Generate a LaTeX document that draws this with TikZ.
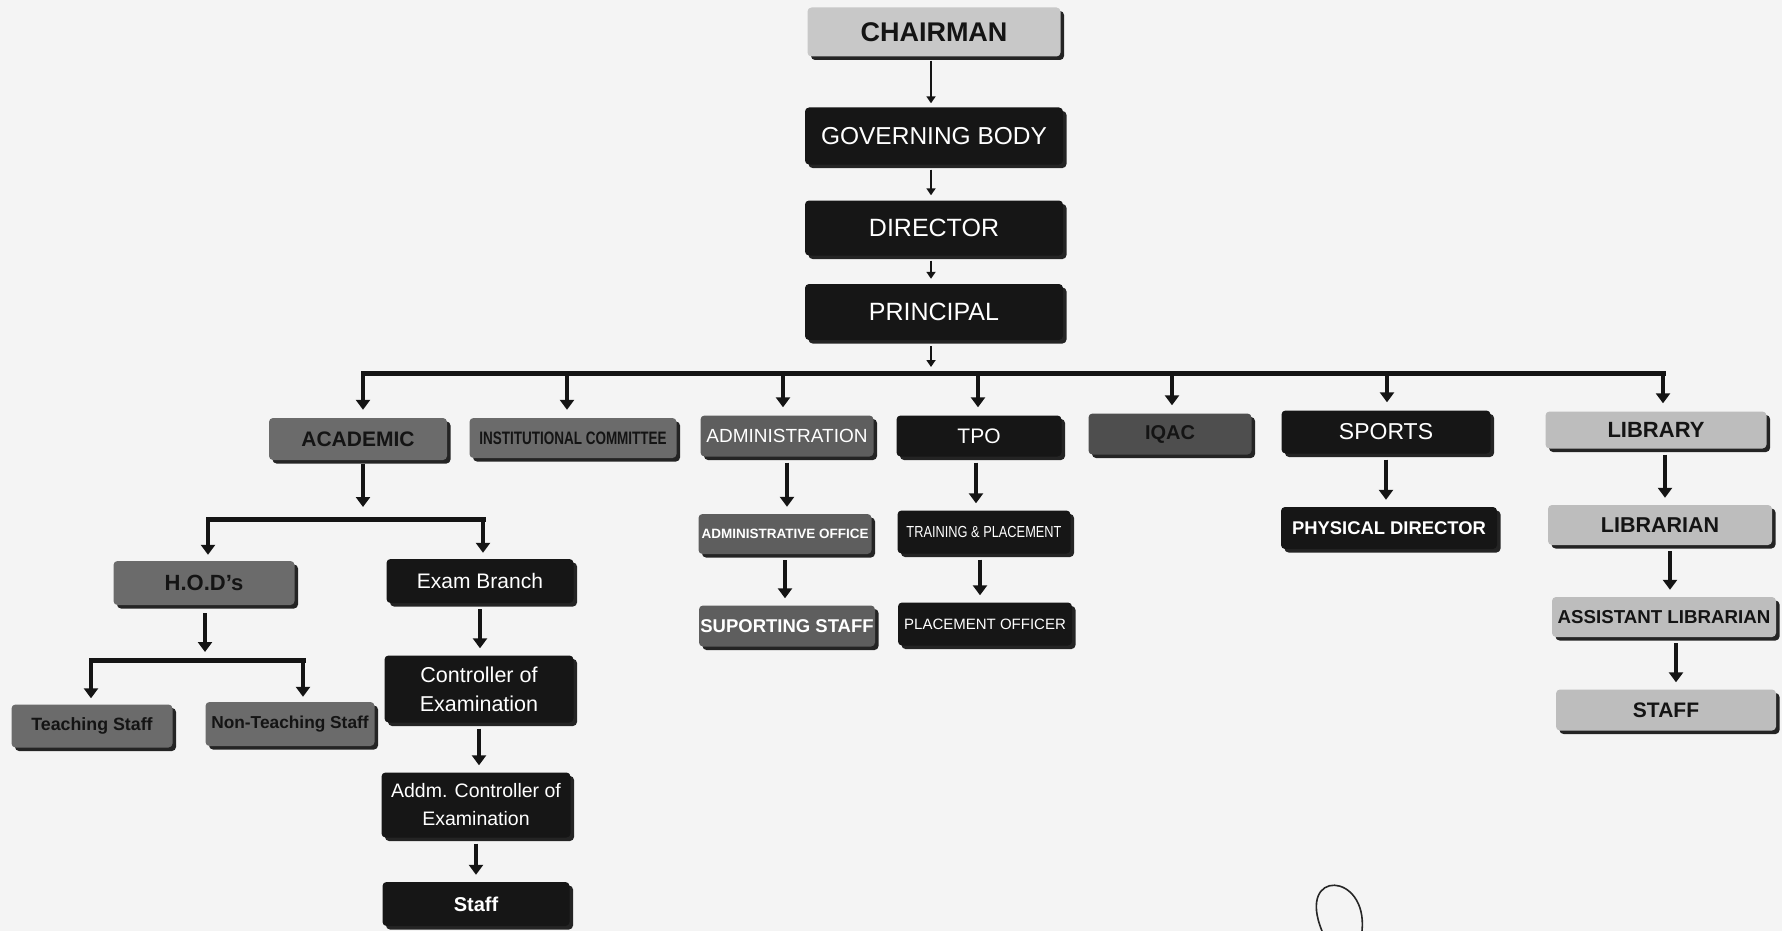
\documentclass[tikz,border=0pt]{standalone}
\usepackage{fontspec}
\setmainfont{Liberation Sans}
\usepackage{graphicx}
\usetikzlibrary{arrows.meta,shadows}
\definecolor{bgc}{HTML}{F4F4F4}
\definecolor{blk}{HTML}{161616}
\definecolor{midg}{HTML}{6B6B6B}
\definecolor{darkg}{HTML}{4E4E4E}
\definecolor{admg}{HTML}{5E5E5E}
\definecolor{litg}{HTML}{BDBDBD}
\definecolor{chg}{HTML}{C8C8C8}
\definecolor{ink}{HTML}{141414}
\newcommand{\fsz}[1]{\fontsize{#1}{#1}\selectfont}
\newcommand{\sqz}[2]{\scalebox{#1}[1]{#2}}
\tikzset{
  bx/.style={rounded corners=4pt, inner sep=0pt, align=center, draw=none,
    drop shadow={shadow xshift=3.5pt, shadow yshift=-3.5pt, fill=black, opacity=0.85}},
  blackbox/.style={bx, fill=blk, text=white},
  chairbox/.style={bx, fill=chg, text=ink},
  graybox/.style={bx, fill=midg, text=ink},
  iqacbox/.style={bx, fill=darkg, text=ink},
  admbox/.style={bx, fill=admg, text=white},
  libbox/.style={bx, fill=litg, text=ink},
  arr/.style={line width=4pt, draw=ink, -{Triangle[width=14pt,length=10pt]}},
  sarr/.style={line width=2.5pt, draw=ink, -{Triangle[width=9pt,length=7pt]}},
  busline/.style={line width=5pt, draw=ink, line cap=rect},
  gap/.style={shorten <=6pt, shorten >=7pt},
}
\begin{document}
\begin{tikzpicture}[x=1pt, y=-1pt]
\fill[bgc] (0,0) rectangle (1782,931);
\useasboundingbox (0,0) rectangle (1782,931);

% top chain
\node[chairbox, minimum width=253pt, minimum height=49pt, font=\fsz{27}\bfseries] (chairman) at (934,32) {CHAIRMAN};
\node[blackbox, minimum width=258pt, minimum height=57pt, font=\fsz{24.5}] (gov) at (934,136) {GOVERNING BODY};
\node[blackbox, minimum width=258pt, minimum height=55pt, font=\fsz{25}] (dir) at (934,228) {DIRECTOR};
\node[blackbox, minimum width=258pt, minimum height=56pt, font=\fsz{25}] (prin) at (934,312) {PRINCIPAL};
\coordinate (bus) at (934,373);

% level 2
\node[graybox, minimum width=178pt, minimum height=42pt, font=\fsz{21}\bfseries] (academic) at (358,439) {ACADEMIC};
\node[graybox, minimum width=207pt, minimum height=40pt, font=\fsz{18}\bfseries] (inst) at (573,438) {\sqz{0.75}{INSTITUTIONAL COMMITTEE}};
\node[admbox, minimum width=173pt, minimum height=41pt, font=\fsz{19}] (admin) at (787,436) {ADMINISTRATION};
\node[blackbox, minimum width=165pt, minimum height=41pt, font=\fsz{21}] (tpo) at (979,436) {TPO};
\node[iqacbox, minimum width=163pt, minimum height=41pt, font=\fsz{20}\bfseries] (iqac) at (1170,434) {IQAC};
\node[blackbox, minimum width=209pt, minimum height=43pt, font=\fsz{23}] (sports) at (1386,432) {SPORTS};
\node[libbox, minimum width=221pt, minimum height=37pt, font=\fsz{22}\bfseries] (library) at (1656,430) {LIBRARY};

% academic branch
\coordinate (abus) at (345,519);
\node[graybox, minimum width=181pt, minimum height=44pt, font=\fsz{22}\bfseries] (hods) at (204,583) {H.O.D's};
\node[blackbox, minimum width=187pt, minimum height=44pt, font=\fsz{21}] (exam) at (480,581) {Exam Branch};
\coordinate (hbus) at (200,660);
\node[graybox, minimum width=161pt, minimum height=43pt, font=\fsz{17.8}\bfseries] (teach) at (92,726) {Teaching Staff};
\node[graybox, minimum width=169pt, minimum height=44pt, font=\fsz{17.3}\bfseries] (nonteach) at (290,724) {Non-Teaching Staff};
\node[blackbox, minimum width=189pt, minimum height=67pt, font=\fontsize{21.5}{29}\selectfont] (ctrl) at (479,689) {Controller of\\Examination};
\node[blackbox, minimum width=189pt, minimum height=65pt, font=\fontsize{19.5}{28}\selectfont] (addm) at (476,805) {Addm. Controller of\\Examination};
\node[blackbox, minimum width=187pt, minimum height=44pt, font=\fsz{20}\bfseries] (estaff) at (476,904) {Staff};

% administration branch
\node[admbox, minimum width=173pt, minimum height=40pt, font=\fsz{13.5}\bfseries] (admoff) at (785,534) {ADMINISTRATIVE OFFICE};
\node[admbox, minimum width=176pt, minimum height=41pt, font=\fsz{18.5}\bfseries] (support) at (787,626) {SUPORTING STAFF};

% tpo branch
\node[blackbox, minimum width=173pt, minimum height=43pt, font=\fsz{16}] (train) at (984,532) {\sqz{0.8}{TRAINING \& PLACEMENT}};
\node[blackbox, minimum width=174pt, minimum height=43pt, font=\fsz{15}] (place) at (985,624) {PLACEMENT OFFICER};

% sports branch
\node[blackbox, minimum width=216pt, minimum height=42pt, font=\fsz{18.4}\bfseries] (phys) at (1389,528) {PHYSICAL DIRECTOR};

% library branch
\node[libbox, minimum width=224pt, minimum height=40pt, font=\fsz{21.5}\bfseries] (librarian) at (1660,525) {LIBRARIAN};
\node[libbox, minimum width=224pt, minimum height=40pt, font=\fsz{18.7}\bfseries] (asst) at (1664,617) {ASSISTANT LIBRARIAN};
\node[libbox, minimum width=220pt, minimum height=41pt, font=\fsz{21}\bfseries] (lstaff) at (1666,710) {STAFF};

% top connectors
\draw[sarr, shorten <=4pt, shorten >=4pt] ([xshift=-3pt]chairman.south) -- ([xshift=-3pt]chairman.south |- gov.north);
\draw[sarr, shorten <=5pt, shorten >=5pt] ([xshift=-3pt]gov.south) -- ([xshift=-3pt]gov.south |- dir.north);
\draw[sarr, shorten <=5pt, shorten >=5pt] ([xshift=-3pt]dir.south) -- ([xshift=-3pt]dir.south |- prin.north);
\draw[sarr, shorten <=6pt, shorten >=6pt] ([xshift=-3pt]prin.south) -- ([xshift=-3pt]bus);

% main bus
\draw[busline] ([xshift=5pt]academic.north |- bus) -- ([xshift=7pt]library.north |- bus);
\foreach \n/\dx in {academic/5, inst/-6, admin/-4, tpo/-1, iqac/2, sports/1, library/7}
  \draw[arr, shorten >=8pt] ([xshift=\dx pt]\n.north |- bus) -- ([xshift=\dx pt]\n.north);

% academic sub-tree
\draw[arr, shorten <=4pt, shorten >=12pt] ([xshift=5pt]academic.south) -- ([xshift=5pt]academic.south |- abus);
\draw[busline] ([xshift=4pt]hods.north |- abus) -- ([xshift=3pt]exam.north |- abus);
\draw[arr, shorten >=6pt] ([xshift=4pt]hods.north |- abus) -- ([xshift=4pt]hods.north);
\draw[arr, shorten >=6pt] ([xshift=3pt]exam.north |- abus) -- ([xshift=3pt]exam.north);

\draw[arr, shorten <=8pt, shorten >=8pt] ([xshift=1pt]hods.south) -- ([xshift=1pt]hods.south |- hbus);
\draw[busline] ([xshift=-1pt]teach.north |- hbus) -- ([xshift=13pt]nonteach.north |- hbus);
\draw[arr, shorten >=6pt] ([xshift=-1pt]teach.north |- hbus) -- ([xshift=-1pt]teach.north);
\draw[arr, shorten >=5pt] ([xshift=13pt]nonteach.north |- hbus) -- ([xshift=13pt]nonteach.north);

\draw[arr, gap] (exam.south) -- (exam.south |- ctrl.north);
\draw[arr, gap] (ctrl.south) -- (ctrl.south |- addm.north);
\draw[arr, gap] (addm.south) -- (addm.south |- estaff.north);

% other columns
\draw[arr, gap] (admin.south) -- (admin.south |- admoff.north);
\draw[arr, gap] (admoff.south) -- (admoff.south |- support.north);
\draw[arr, gap] ([xshift=-3pt]tpo.south) -- ([xshift=-3pt]tpo.south |- train.north);
\draw[arr, gap] ([xshift=-4pt]train.south) -- ([xshift=-4pt]train.south |- place.north);
\draw[arr, gap] (sports.south) -- (sports.south |- phys.north);
\draw[arr, gap] ([xshift=9pt]library.south) -- ([xshift=9pt]library.south |- librarian.north);
\draw[arr, gap] ([xshift=10pt]librarian.south) -- ([xshift=10pt]librarian.south |- asst.north);
\draw[arr, gap] ([xshift=12pt]asst.south) -- ([xshift=12pt]asst.south |- lstaff.north);

% pen mark at the bottom
\draw[line width=1.6pt, draw=black!85] (1322,931) .. controls (1296,868) and (1368,872) .. (1362,931);
\end{tikzpicture}
\end{document}
